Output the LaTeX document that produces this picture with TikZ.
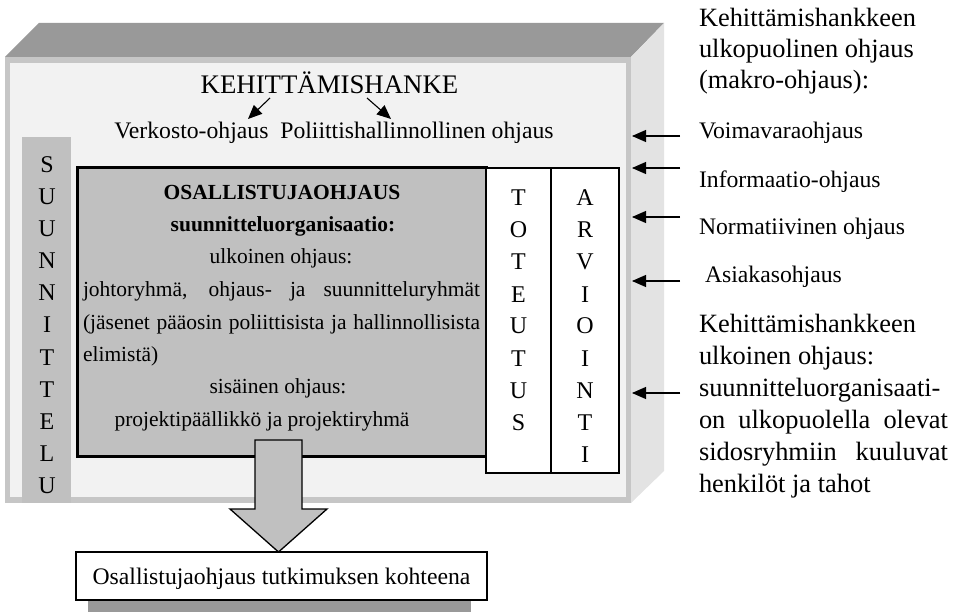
\documentclass[tikz,border=0pt]{standalone}
\usepackage{fontspec}
\setmainfont{Liberation Serif}
\usetikzlibrary{arrows.meta}
\definecolor{topgray}{HTML}{999999}
\definecolor{sidegray}{HTML}{E3E3E3}
\definecolor{facegray}{HTML}{F2F2F2}
\definecolor{rimgray}{HTML}{C6C6C6}
\definecolor{boxgray}{HTML}{C0C0C0}
\begin{document}
\begin{tikzpicture}[x=1pt,y=-1pt,
  txt/.style={inner sep=0pt, outer sep=0pt, anchor=base},
  txtw/.style={inner sep=0pt, outer sep=0pt, anchor=base west},
  fbig/.style={font=\fontsize{26.4}{30}\selectfont},
  fhead/.style={font=\fontsize{26.8}{30}\selectfont},
  fmid/.style={font=\fontsize{23.7}{28}\selectfont},
  fsmall/.style={font=\fontsize{21.5}{26}\selectfont},
  fbold/.style={font=\fontsize{21.5}{26}\selectfont\bfseries},
  flet/.style={font=\fontsize{24}{28}\selectfont},
  arr/.style={-{Triangle[length=14pt,width=12pt]}, line width=1.1pt},
  thinbox/.style={draw, line width=1.3pt, fill=white, inner sep=0pt, outer sep=0pt},
]
\useasboundingbox (0,0) rectangle (953,612);

% 3D box
\fill[topgray] (5,57) -- (39,23) -- (664,23) -- (631,57) -- cycle;
\fill[sidegray] (631,57) -- (664,23) -- (664,471) -- (631,503) -- cycle;
\fill[rimgray] (5,57) rectangle (631,503);
\fill[facegray] (10,63) rectangle (626,497);

% SUUNNITTELU column
\fill[boxgray] (22,137) rectangle (71,503);
\foreach \l [count=\i] in {S,U,U,N,N,I,T,T,E,L,U}
  \node[txt,flet] (su\i) at (47,{173+32*(\i-1)}) {\l};

% header
\node[txt,fhead] (kehi) at (329.5,94) {KEHITTÄMISHANKE};
\node[txt,fmid] (ohj) at (334,139) {Verkosto-ohjaus\ \ Poliittishallinnollinen ohjaus};
\coordinate (k1s) at (270,98);
\coordinate (k1e) at (248,119);
\coordinate (k2s) at (367,98);
\coordinate (k2e) at (391,119);
\draw[arr] (k1s) -- (k1e);
\draw[arr] (k2s) -- (k2e);

% main grey box
\node[draw, line width=3pt, fill=boxgray, minimum width=409pt, minimum height=288pt, inner sep=0pt, outer sep=0pt] (main) at (281.5,312) {};
\node[thinbox, minimum width=65pt, minimum height=305pt] (tot) at (518.5,320.5) {};
\node[thinbox, minimum width=68pt, minimum height=305pt] (arv) at (585,320.5) {};
\foreach \l [count=\i] in {T,O,T,E,U,T,U,S}
  \node[txt,flet] (to\i) at (518.5,{206+32*(\i-1)}) {\l};
\foreach \l [count=\i] in {A,R,V,I,O,I,N,T,I}
  \node[txt,flet] (ar\i) at (585,{206+32*(\i-1)}) {\l};

\node[txt,fbold] (m1) at (282,200) {OSALLISTUJAOHJAUS};
\node[txt,fbold] (m2) at (283,232) {suunnitteluorganisaatio:};
\node[txt,fsmall] (m3) at (281,264) {ulkoinen ohjaus:};
\node[txtw,fsmall] (m4) at (83,297) {\makebox[397pt][s]{johtoryhmä, ohjaus- ja suunnitteluryhmät}};
\node[txtw,fsmall] (m5) at (83,329) {\makebox[397pt][s]{(jäsenet pääosin poliittisista ja hallinnollisista}};
\node[txtw,fsmall] (m6) at (83,361) {elimistä)};
\node[txt,fsmall] (m7) at (278,393) {sisäinen ohjaus:};
\node[txt,fsmall] (m8) at (262,426) {projektipäällikkö ja projektiryhmä};

% block arrow
\draw[fill=boxgray, line width=1.3pt, line join=miter]
  (255,440) -- (302,440) -- (302,509) -- (327,509) -- (278.5,552) -- (230,509) -- (255,509) -- cycle;

% bottom box
\fill[topgray] (88,600) rectangle (471,612);
\node[thinbox, minimum width=411pt, minimum height=48pt] (bot) at (281.5,576) {};
\node[txt,fmid] (bott) at (281.5,584) {Osallistujaohjaus tutkimuksen kohteena};

% right side texts
\node[txtw,fbig] (r1) at (699,27) {Kehittämishankkeen};
\node[txtw,fbig] (r2) at (699,58) {ulkopuolinen ohjaus};
\node[txtw,fbig] (r3) at (699,89) {(makro-ohjaus):};
\node[txtw,fmid] (v1) at (699,139) {Voimavaraohjaus};
\node[txtw,fmid] (v2) at (699,188) {Informaatio-ohjaus};
\node[txtw,fmid] (v3) at (699,235) {Normatiivinen ohjaus};
\node[txtw,fmid] (v4) at (705,283) {Asiakasohjaus};
\node[txtw,fbig] (u1) at (699,332) {Kehittämishankkeen};
\node[txtw,fbig] (u2) at (699,364) {ulkoinen ohjaus:};
\node[txtw,fbig] (u3) at (699,396) {suunnitteluorganisaati-};
\node[txtw,fbig] (u4) at (699,428) {\makebox[249pt][s]{on ulkopuolella olevat}};
\node[txtw,fbig] (u5) at (699,460) {\makebox[249pt][s]{sidosryhmiin kuuluvat}};
\node[txtw,fbig] (u6) at (699,492) {henkilöt ja tahot};

% right arrows
\foreach \yy [count=\i] in {136,168,217,281,393} {
  \coordinate (as\i) at (680,\yy);
  \coordinate (ae\i) at (632,\yy);
  \draw[arr] (as\i) -- (ae\i);
}
\end{tikzpicture}
\end{document}
